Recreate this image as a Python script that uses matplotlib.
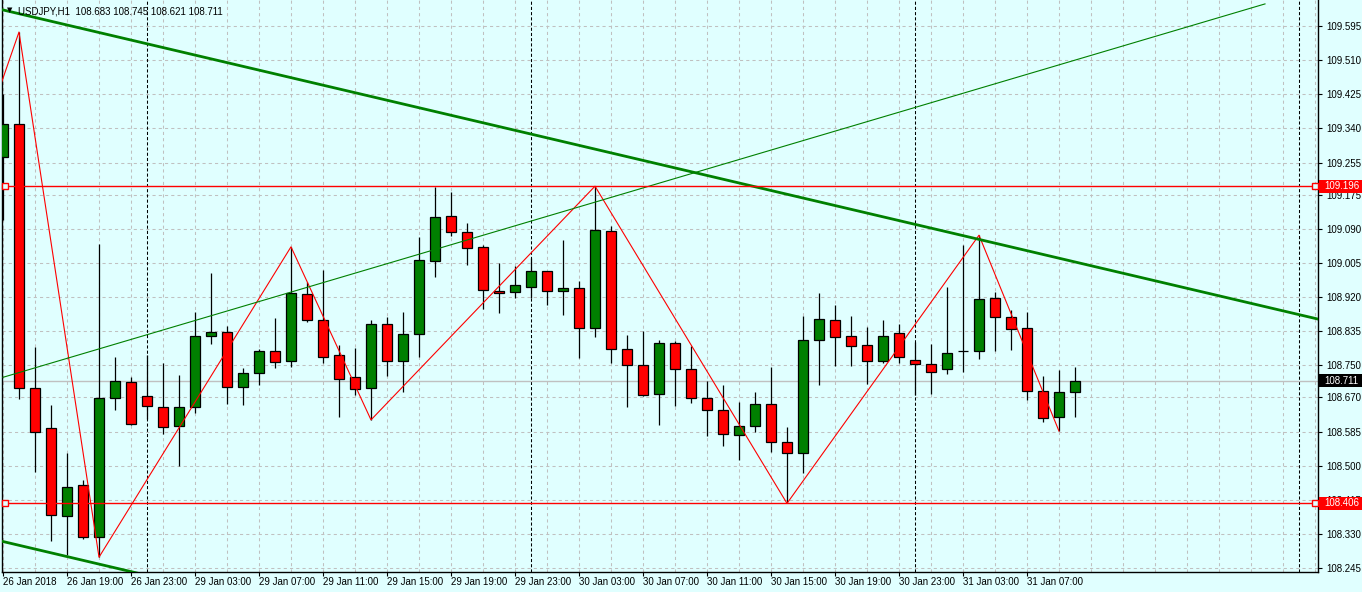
#!/usr/bin/env python3
"""USDJPY H1 candlestick chart, MT4 style."""

import numpy as np
import matplotlib.pyplot as plt
from matplotlib.patches import Rectangle
from matplotlib.transforms import blended_transform_factory

# one bar per hour, bar 0 = 26 Jan 2018 15:00
opens = [109.268, 109.352, 108.693, 108.594, 108.375, 108.452, 108.322, 108.668, 108.708, 108.673,
         108.645, 108.599, 108.645, 108.822, 108.834, 108.697, 108.731, 108.786, 108.761, 108.928,
         108.863, 108.776, 108.721, 108.693, 108.853, 108.761, 108.828, 109.010, 109.122, 109.082,
         109.045, 108.935, 108.933, 108.945, 108.985, 108.935, 108.942, 108.843, 109.084, 108.791,
         108.751, 108.678, 108.805, 108.741, 108.668, 108.639, 108.576, 108.599, 108.654, 108.559,
         108.532, 108.813, 108.863, 108.823, 108.801, 108.761, 108.830, 108.763, 108.753, 108.741,
         108.785, 108.786, 108.918, 108.870, 108.843, 108.685, 108.620, 108.683]
highs = [109.426, 109.580, 108.796, 108.651, 108.532, 108.464, 109.051, 108.770, 108.721, 108.776,
         108.756, 108.726, 108.883, 108.981, 108.848, 108.743, 108.791, 108.868, 109.045, 108.958,
         108.987, 108.801, 108.793, 108.863, 108.871, 108.883, 109.069, 109.193, 109.182, 109.104,
         109.050, 109.005, 108.996, 109.017, 108.985, 109.062, 108.960, 109.196, 109.097, 108.825,
         108.835, 108.813, 108.810, 108.798, 108.711, 108.701, 108.659, 108.683, 108.746, 108.597,
         108.873, 108.930, 108.900, 108.873, 108.845, 108.863, 108.853, 108.808, 108.803, 108.945,
         109.050, 109.074, 108.933, 108.888, 108.883, 108.723, 108.738, 108.745]
lows = [109.112, 108.666, 108.483, 108.312, 108.277, 108.317, 108.272, 108.638, 108.601, 108.616,
        108.579, 108.498, 108.631, 108.804, 108.654, 108.651, 108.701, 108.744, 108.746, 108.859,
        108.756, 108.622, 108.676, 108.614, 108.723, 108.684, 108.771, 108.971, 109.073, 109.000,
        108.890, 108.881, 108.918, 108.918, 108.900, 108.874, 108.769, 108.821, 108.756, 108.647,
        108.674, 108.600, 108.649, 108.657, 108.575, 108.550, 108.514, 108.584, 108.535, 108.406,
        108.482, 108.701, 108.748, 108.748, 108.703, 108.756, 108.756, 108.676, 108.679, 108.729,
        108.734, 108.765, 108.786, 108.788, 108.664, 108.609, 108.586, 108.621]
closes = [109.351, 108.693, 108.585, 108.378, 108.448, 108.322, 108.668, 108.711, 108.603, 108.649,
          108.596, 108.645, 108.824, 108.833, 108.697, 108.731, 108.786, 108.758, 108.930, 108.863,
          108.771, 108.717, 108.691, 108.853, 108.761, 108.828, 109.012, 109.119, 109.082, 109.043,
          108.937, 108.930, 108.950, 108.985, 108.935, 108.942, 108.843, 109.087, 108.791, 108.751,
          108.676, 108.805, 108.741, 108.668, 108.639, 108.579, 108.599, 108.654, 108.560, 108.532,
          108.813, 108.865, 108.821, 108.799, 108.761, 108.823, 108.771, 108.753, 108.733, 108.781,
          108.785, 108.915, 108.871, 108.840, 108.685, 108.618, 108.683, 108.711]

# zigzag vertices (bar, price)
zz_bars = [-1, 1, 6, 18, 23, 37, 49, 61, 66]
zz_prices = [109.350, 109.580, 108.272, 109.045, 108.614, 109.196, 108.406, 109.074, 108.586]

# trendlines (bar, price) pairs
down_bars = [0, 82.19]
down_prices = [109.635, 108.865]
down_low_prices = [108.311, 107.541]
up_bars = [0, 78.875]
up_prices = [108.720, 109.650]

levels = [109.196, 108.406]
last_price = 108.711
header = "USDJPY,H1  108.683 108.745 108.621 108.711"

ytick_labels = ['109.595', '109.510', '109.425', '109.340', '109.255', '109.175', '109.090',
                '109.005', '108.920', '108.835', '108.750', '108.670', '108.585', '108.500',
                '108.415', '108.330', '108.245']
xtick_bars = list(range(0, 68, 4))
xtick_labels = ['26 Jan 2018', '26 Jan 19:00', '26 Jan 23:00', '29 Jan 03:00', '29 Jan 07:00',
                '29 Jan 11:00', '29 Jan 15:00', '29 Jan 19:00', '29 Jan 23:00', '30 Jan 03:00',
                '30 Jan 07:00', '30 Jan 11:00', '30 Jan 15:00', '30 Jan 19:00', '30 Jan 23:00',
                '31 Jan 03:00', '31 Jan 07:00']
day_breaks = [9, 33, 57, 81]

BG = '#E0FFFF'
GREEN = '#008000'
RED = '#FF0000'
FONT = 'Liberation Sans'
FS = 7

W, H = 1362, 592
fig = plt.figure(figsize=(W / 100, H / 100), dpi=100, facecolor=BG)
ax = fig.add_axes([2 / W, 20 / H, 1316 / W, 572 / H])
ax.set_facecolor(BG)

ppx = 401.5  # pixels per price unit
ax.set_ylim(109.595 - 546 / ppx, 109.595 + 26 / ppx)
ax.set_xlim(-1 / 16, 1315 / 16)

# grid
for b in range(0, 84, 2):
    ax.axvline(b, color='#C0C0C0', lw=0.75, ls=(0, (3, 3)), zorder=0)
for t in ytick_labels:
    ax.axhline(float(t), color='#C0C0C0', lw=0.75, ls=(0, (3, 3)), zorder=0)
for b in day_breaks:
    ax.axvline(b, color='black', lw=0.75, ls=(0, (3, 2)), zorder=1)

ax.axhline(last_price, color='#C0C0C0', lw=1, zorder=1)

# candles
x = np.arange(len(opens))
o = np.array(opens)
c = np.array(closes)
ax.vlines(x, lows, highs, color='black', lw=0.9, zorder=2)
cols = [GREEN if cc >= oo else RED for oo, cc in zip(o, c)]
ax.bar(x, np.abs(c - o), bottom=np.minimum(o, c), width=0.6, color=cols,
       edgecolor='black', linewidth=0.9, zorder=3)

# zigzag and trendlines
ax.plot(zz_bars, zz_prices, color=RED, lw=0.8, zorder=4)
ax.plot(down_bars, down_prices, color=GREEN, lw=2.0, zorder=4)
ax.plot(down_bars, down_low_prices, color=GREEN, lw=2.0, zorder=4)
ax.plot(up_bars, up_prices, color=GREEN, lw=0.8, zorder=4)

for lv in levels:
    ax.axhline(lv, color=RED, lw=1, zorder=4)
    ax.plot([0.125, 82.0], [lv, lv], ls='none', marker='s', ms=4, mfc=BG,
            mec=RED, mew=1, zorder=5, clip_on=False)

# axes styling
ax.spines['top'].set_visible(False)
for s in ['left', 'right', 'bottom']:
    ax.spines[s].set_color('black')
    ax.spines[s].set_linewidth(1)

ax.yaxis.tick_right()
ax.set_yticks([float(t) for t in ytick_labels])
ax.set_yticklabels(ytick_labels, fontsize=FS, family=FONT)
ax.set_xticks(xtick_bars)
ax.set_xticklabels(xtick_labels, fontsize=FS, family=FONT, ha='left')
ax.tick_params(axis='y', direction='out', length=3, width=0.8, pad=3)
ax.tick_params(axis='x', direction='out', length=3, width=0.8, pad=0.5)

# price labels on the right scale
tr = blended_transform_factory(ax.transAxes, ax.transData)
for lv, bg in [(levels[0], RED), (levels[1], RED), (last_price, 'black')]:
    ax.add_patch(Rectangle((1.0008, lv - 6.5 / ppx), 44 / 1316, 13 / ppx, transform=tr,
                           facecolor=bg, edgecolor='none', clip_on=False, zorder=10))
    ax.text(1 + 6 / 1316, lv, f'{lv:.3f}', transform=tr, color='white', fontsize=FS,
            family=FONT, ha='left', va='center', zorder=11, clip_on=False)

# header
fig.text(18 / W, 1 - 11 / H, header, fontsize=FS, family=FONT, color='black',
         ha='left', va='center')
fig.text(10 / W, 1 - 10 / H, '\u25bc', fontsize=5, family='DejaVu Sans', color='black',
         ha='center', va='center')

fig.savefig('out.png', dpi=100, facecolor=BG)
